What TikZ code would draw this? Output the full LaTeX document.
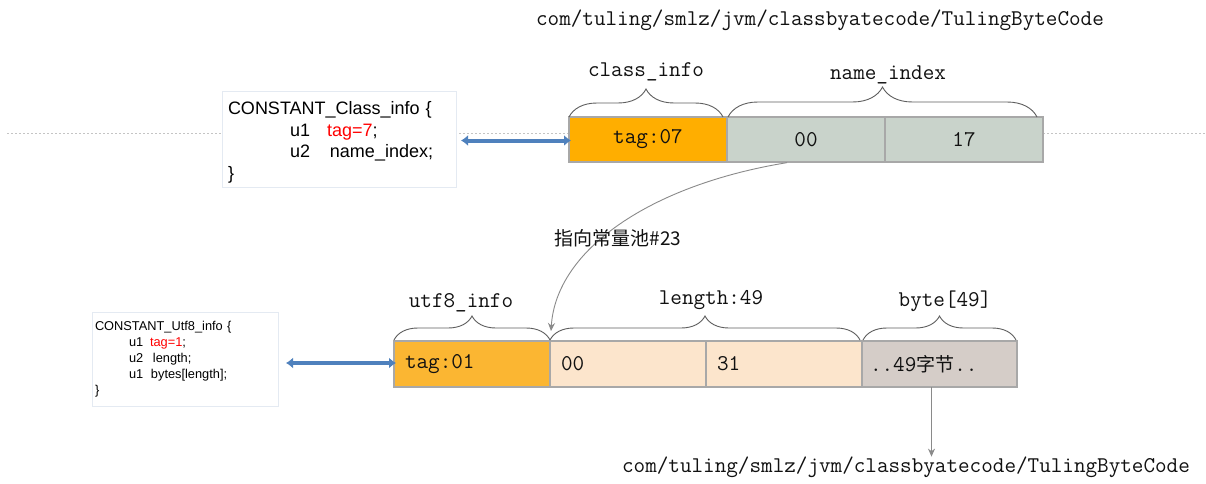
\documentclass[tikz,border=0pt]{standalone}
\usepackage{fontspec}
\usetikzlibrary{arrows.meta,decorations.pathreplacing}
\setmainfont{Liberation Serif}
\newfontfamily\monof{Latin Modern Mono}
\newfontfamily\codef{Liberation Sans}
\newfontfamily\cjk{Noto Sans CJK SC}
\definecolor{amber}{HTML}{FFAE00}
\definecolor{amberlt}{HTML}{FBB632}
\definecolor{sage}{HTML}{C9D3CB}
\definecolor{peach}{HTML}{FCE5CC}
\definecolor{taupe}{HTML}{D5CDC8}
\definecolor{cellline}{HTML}{A8A8A8}
\definecolor{inkgray}{HTML}{111111}
\definecolor{linkblue}{HTML}{4F81BD}
\definecolor{bracegray}{HTML}{5E5E5E}
\definecolor{codeframe}{HTML}{E4EAF2}
\definecolor{rulegray}{HTML}{C4C4C4}
\definecolor{pointer}{HTML}{8A8A8A}
\begin{document}
\begin{tikzpicture}[x=1pt,y=-1pt,
  every node/.style={inner sep=0pt, outer sep=0pt},
  mono/.style={font=\monof\fontsize{22.5}{26}\selectfont, text=inkgray},
  cjktext/.style={font=\cjk\fontsize{19}{22}\selectfont, text=inkgray},
  cellA/.style={draw=cellline, line width=1.1pt, minimum height=45pt, minimum width=158pt, mono},
  cellB/.style={draw=cellline, line width=1.1pt, minimum height=46pt, inner xsep=11pt, text width=134pt, align=left, mono},
  codebox/.style={draw=codeframe, line width=1pt, fill=white, align=left, text=black},
  brc/.style={decorate, decoration={brace, amplitude=#1}, draw=bracegray, line width=0.9pt},
  link/.style={draw=linkblue, line width=4pt, {Latex[length=7pt,width=11pt]}-{Latex[length=7pt,width=11pt]}},
  ptrline/.style={draw=pointer, line width=0.9pt, -{Stealth[length=8pt,width=7pt]}}
]
\useasboundingbox (0,0) rectangle (1206,484);
\fill[white] (0,0) rectangle (1206,484);

% background guide line
\draw[rulegray, line width=0.8pt, dash pattern=on 2pt off 2pt] (7,133) -- (1205,133);

% top row: CONSTANT_Class_info bytes
\node[cellA, fill=amber] (r1c1) at (648,139.5) {\raisebox{-2pt}{tag:07}};
\node[cellA, fill=sage] (r1c2) at (806,139.5) {\raisebox{-2pt}{00}};
\node[cellA, fill=sage] (r1c3) at (964,139.5) {\raisebox{-2pt}{17}};

\draw[brc=28pt] (r1c1.north west) -- ([xshift=-4pt]r1c1.north east);
\draw[brc=30pt] ([xshift=1pt]r1c2.north west) -- ([xshift=-6pt]r1c3.north east);
\node[mono] (lblclass) at (646,72) {class\_info};
\node[mono] (lblname) at (888,75) {name\_index};

\node[mono] (pathtop) at (820,20) {com/tuling/smlz/jvm/classbyatecode/TulingByteCode};

% class_info structure
\node[codebox, minimum width=234pt, minimum height=95pt, text width=222pt, inner xsep=6pt,
      font=\codef\fontsize{18}{21.5}\selectfont] (code1) at (339,139.5)
  {\rule{0pt}{19pt}CONSTANT\_Class\_info \{\\
   \hspace*{62pt}\makebox[37pt][l]{u1}\textcolor{red}{tag=7};\\
   \hspace*{62pt}\makebox[40pt][l]{u2}name\_index;\\
   \}};
\draw[link, shorten <=5pt, shorten >=-2pt] ([yshift=-1pt]code1.east) -- ([yshift=-1pt]r1c1.west);

% bottom row: CONSTANT_Utf8_info bytes
\node[cellB, fill=amberlt] (r2c1) at (472,364) {tag:01};
\node[cellB, fill=peach] (r2c2) at (628,364) {00};
\node[cellB, fill=peach] (r2c3) at (784,364) {31};
\node[cellB, fill=taupe, inner xsep=8pt, text width=139pt, minimum width=155pt] (r2c4) at (939.5,364)
  {..49{\cjk\fontsize{19}{22}\selectfont 字节}..};

\draw[brc=24pt] ([yshift=1pt]r2c1.north west) -- ([yshift=1pt]r2c1.north east);
\draw[brc=24pt] ([yshift=1pt]r2c2.north west) -- ([xshift=-2pt,yshift=1pt]r2c3.north east);
\draw[brc=24pt] ([xshift=1pt,yshift=1pt]r2c4.north west) -- ([xshift=-1pt,yshift=1pt]r2c4.north east);
\node[mono] (lblutf) at (461,303) {utf8\_info};
\node[mono] (lbllen) at (711,300) {length:49};
\node[mono] (lblbyte) at (945,301) {byte[49]};

\node[codebox, minimum width=186pt, minimum height=94pt, text width=180pt, inner xsep=3pt,
      font=\codef\fontsize{12.8}{16}\selectfont] (code2) at (185,359)
  {CONSTANT\_Utf8\_info \{\\
   \hspace*{34pt}\makebox[21pt][l]{u1}\textcolor{red}{tag=1};\\
   \hspace*{34pt}\makebox[24pt][l]{u2}length;\\
   \hspace*{34pt}\makebox[22pt][l]{u1}bytes[length];\\
   \}};
\draw[link, shorten <=8pt, shorten >=-2pt] ([yshift=1pt]code2.east |- r2c1.west) -- ([yshift=1pt]r2c1.west);

% pointer from name_index to the constant pool entry
\coordinate (ptr) at (551,331);
\draw[ptrline, shorten <=4pt] ([xshift=-15pt]r1c2.south) .. controls (650,185) and (556,250) .. (ptr);
\node[cjktext] (note) at (618,238) {指向常量池\#23};

% bytes resolve to the class name
\node[mono] (pathbot) at (906,467) {com/tuling/smlz/jvm/classbyatecode/TulingByteCode};
\draw[ptrline] ([xshift=-8pt]r2c4.south) -- ([xshift=-8pt]r2c4.south |- pathbot.north);
\end{tikzpicture}
\end{document}
